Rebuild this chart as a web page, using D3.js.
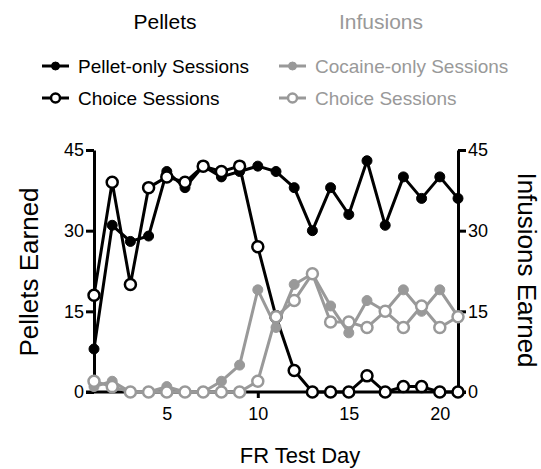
<!DOCTYPE html>
<html>
<head>
<meta charset="utf-8">
<script src="https://cdn.jsdelivr.net/npm/d3@7"></script>
<style>
  body { margin: 0; background: #fff; }
  text { font-family: 'Liberation Sans', Arial, sans-serif; }
</style>
</head>
<body>
<div class="container"></div>
<script>
var days = [1,2,3,4,5,6,7,8,9,10,11,12,13,14,15,16,17,18,19,20,21];
var pelletOnly = [8,31,28,29,41,38,42,40,41,42,41,38,30,38,33,43,31,40,36,40,36];
var pelletChoice = [18,39,20,38,40,39,42,41,42,27,14,4,0,0,0,3,0,1,1,0,0];
var cocaineOnly = [1,2,0,0,1,0,0,2,5,19,12,20,22,16,11,17,15,19,15,19,14];
var cocaineChoice = [2,1,0,0,0,0,0,0,0,2,14,17,22,13,13,12,15,12,16,12,14];
var xTicks = [5,10,15,20];
var yTicks = [0,15,30,45];

var black = '#000';
var grey = '#999';

var w = 541;
var h = 469;

var svg = d3.select('.container')
  .append('svg')
  .attr('width', w)
  .attr('height', h);

/* scales */
var xScale = d3.scaleLinear()
  .domain([1, 21])
  .range([94, 458]);

var yScale = d3.scaleLinear()
  .domain([0, 45])
  .range([392, 150]);

/* axes */
var xAxis = d3.axisBottom(xScale)
  .tickValues(xTicks)
  .tickSize(6)
  .tickSizeOuter(0);

var yAxisL = d3.axisLeft(yScale)
  .tickValues(yTicks)
  .tickSize(8)
  .tickSizeOuter(0);

var yAxisR = d3.axisRight(yScale)
  .tickValues(yTicks)
  .tickSize(8)
  .tickSizeOuter(0);

function styleAxis(g) {
  g.select('.domain').attr('stroke', black).attr('stroke-width', 3);
  g.selectAll('.tick line').attr('stroke', black).attr('stroke-width', 3);
  g.selectAll('.tick text')
    .attr('fill', black)
    .style('font-size', '18px')
    .style('font-family', "'Liberation Sans', Arial, sans-serif");
}

var gx = svg.append('g')
  .attr('transform', 'translate(0,' + yScale(0) + ')')
  .call(xAxis)
  .call(styleAxis);
gx.select('.domain').attr('d', 'M86,0H466');
gx.selectAll('.tick text').attr('dy', '1.05em');

svg.append('g')
  .attr('transform', 'translate(' + xScale(1) + ',0)')
  .call(yAxisL)
  .call(styleAxis)
  .selectAll('.tick text').attr('x', -10);

svg.append('g')
  .attr('transform', 'translate(' + xScale(21) + ',0)')
  .call(yAxisR)
  .call(styleAxis)
  .selectAll('.tick text').attr('x', 10);

/* axis titles */
svg.append('text')
  .attr('transform', 'translate(38,272) rotate(-90)')
  .attr('text-anchor', 'middle')
  .style('font-size', '26px')
  .text('Pellets Earned');

svg.append('text')
  .attr('transform', 'translate(518,270) rotate(90)')
  .attr('text-anchor', 'middle')
  .style('font-size', '26px')
  .text('Infusions Earned');

svg.append('text')
  .attr('x', 300)
  .attr('y', 463)
  .attr('text-anchor', 'middle')
  .style('font-size', '22px')
  .text('FR Test Day');

/* series */
var series = [
  { name: 'Pellet-only Sessions', values: pelletOnly, color: black, open: false },
  { name: 'Choice Sessions', values: pelletChoice, color: black, open: true },
  { name: 'Cocaine-only Sessions', values: cocaineOnly, color: grey, open: false },
  { name: 'Choice Sessions', values: cocaineChoice, color: grey, open: true }
];

var line = d3.line()
  .x(function(d) { return xScale(d.day); })
  .y(function(d) { return yScale(d.v); });

series.forEach(function(s) {
  var pts = days.map(function(d, i) { return { day: d, v: s.values[i] }; });
  var g = svg.append('g');
  g.append('path')
    .datum(pts)
    .attr('d', line)
    .attr('fill', 'none')
    .attr('stroke', s.color)
    .attr('stroke-width', 3)
    .attr('stroke-linejoin', 'round');
  g.selectAll('circle')
    .data(pts)
    .enter()
    .append('circle')
    .attr('cx', function(d) { return xScale(d.day); })
    .attr('cy', function(d) { return yScale(d.v); })
    .attr('r', s.open ? 5.5 : 5)
    .attr('fill', s.open ? '#fff' : s.color)
    .attr('stroke', s.color)
    .attr('stroke-width', s.open ? 2.5 : 1);
});

/* legend */
svg.append('text')
  .attr('x', 165).attr('y', 29)
  .attr('text-anchor', 'middle')
  .style('font-size', '21px')
  .attr('fill', black)
  .text('Pellets');

svg.append('text')
  .attr('x', 381).attr('y', 29)
  .attr('text-anchor', 'middle')
  .style('font-size', '21px')
  .attr('fill', grey)
  .text('Infusions');

var legendPos = [
  { x: 42, y: 66 },
  { x: 42, y: 98 },
  { x: 279, y: 66 },
  { x: 279, y: 98 }
];

series.forEach(function(s, i) {
  var p = legendPos[i];
  var g = svg.append('g').attr('transform', 'translate(' + p.x + ',' + p.y + ')');
  g.append('line')
    .attr('x1', 0).attr('x2', 27)
    .attr('stroke', s.color)
    .attr('stroke-width', 3);
  g.append('circle')
    .attr('cx', 13.5)
    .attr('r', s.open ? 4.5 : 4)
    .attr('fill', s.open ? '#fff' : s.color)
    .attr('stroke', s.color)
    .attr('stroke-width', s.open ? 2.5 : 1);
  g.append('text')
    .attr('x', 36)
    .attr('y', 7)
    .style('font-size', '19px')
    .attr('fill', s.color)
    .text(s.name);
});
</script>
</body>
</html>
